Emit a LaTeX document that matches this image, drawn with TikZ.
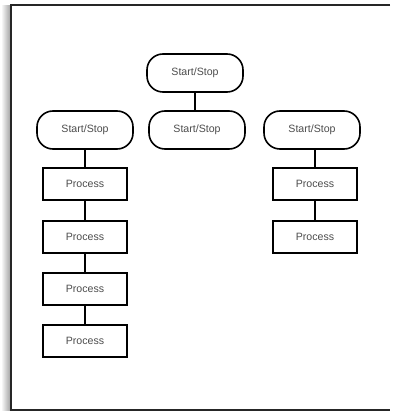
\documentclass[tikz,border=0pt]{standalone}
\usepackage{fontspec}
\setmainfont{Liberation Sans}
\begin{document}
\begin{tikzpicture}[x=1pt,y=-1pt,
  every node/.style={font=\fontsize{10.6}{12}\selectfont, text=black!70},
  term/.style={draw=black, line width=1.6pt, rounded corners=16pt, minimum width=96pt, minimum height=38pt, inner sep=0pt},
  proc/.style={draw=black, line width=1.6pt, minimum width=84pt, minimum height=32pt, inner sep=0pt},
  link/.style={draw=black, line width=1.6pt}]
\useasboundingbox (0,0) rectangle (392,411);
% frame shadow and frame
\shade[left color=white, right color=black!35] (1,6) rectangle (10,411);
\draw[line width=1.8pt, black!85] (390,5) -- (11,5) -- (11,410) -- (390,410);
% nodes
\node[term] (t0) at (195,73) {Start/Stop};
\node[term] (t1) at (85,130) {Start/Stop};
\node[term] (t2) at (197,130) {Start/Stop};
\node[term] (t3) at (312,130) {Start/Stop};
\node[proc] (p1) at (85,184) {Process};
\node[proc] (p2) at (85,237) {Process};
\node[proc] (p3) at (85,289) {Process};
\node[proc] (p4) at (85,341) {Process};
\node[proc] (q1) at (315,184) {Process};
\node[proc] (q2) at (315,237) {Process};
% connectors
\draw[link] (t0.south) -- (t0.south |- t2.north);
\draw[link] (t1) -- (p1);
\draw[link] (p1) -- (p2);
\draw[link] (p2) -- (p3);
\draw[link] (p3) -- (p4);
\draw[link] (q1.north) -- (q1.north |- t3.south);
\draw[link] (q1) -- (q2);
\end{tikzpicture}
\end{document}
